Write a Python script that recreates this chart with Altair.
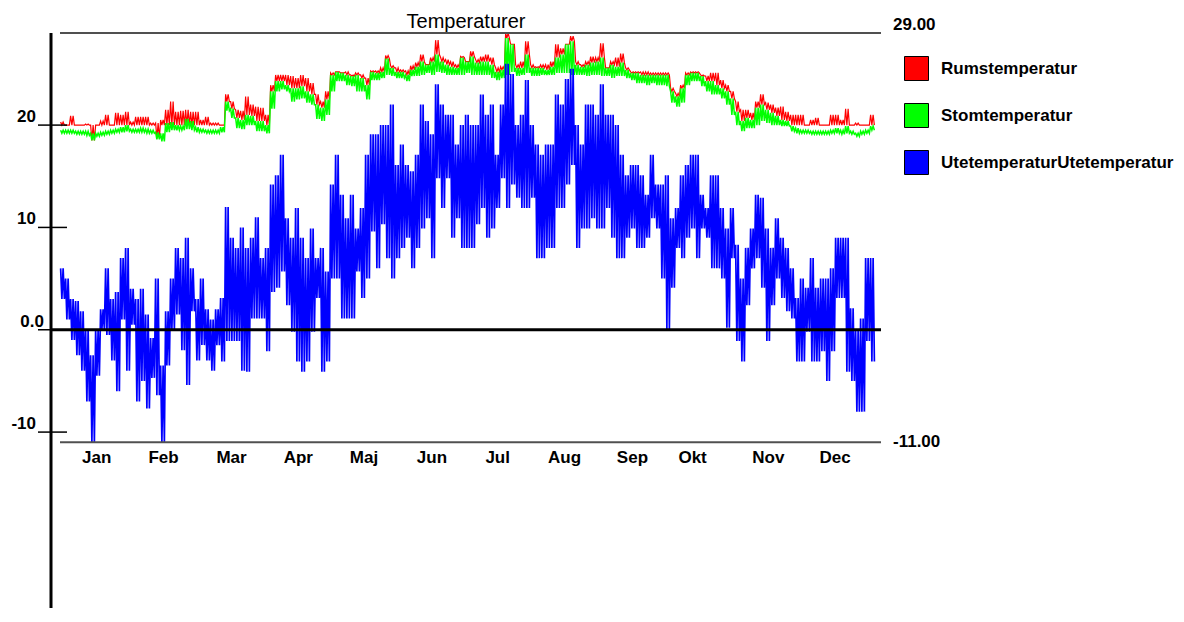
import altair as alt
import pandas as pd

# ---------------- data ----------------
# Each entry is one 5-px slice of the original time axis (about 2.245 days),
# starting 1 January; *_hi / *_lo are the top and bottom of the trace in that slice.
ute_hi = [6.0, 5.0, 3.0, 2.8, 1.8, 0.0, -2.5, 0.0, 2.0, 6.0, 3.0, 3.7, 7.0, 8.0, 4.0, 3.0,
          4.0, 1.5, -0.8, 5.0, -3.5, 1.8, 5.0, 8.0, 7.0, 9.0, 6.0, 3.0, 5.0, 2.0, 1.0, 2.0,
          3.1, 12.0, 9.0, 8.0, 10.0, 8.0, 9.0, 11.0, 7.0, 8.0, 14.2, 15.1, 17.1, 10.9, 9.0,
          11.9, 9.0, 7.0, 9.9, 7.0, 8.0, 5.7, 14.2, 17.1, 13.2, 10.9, 13.2, 9.9, 11.9, 17.1,
          19.1, 19.1, 20.0,
          20.0, 22.0, 16.1, 18.1, 16.1, 15.5, 17.1, 22.0, 20.4, 19.1, 24.0, 22.0, 21.0, 21.0,
          18.1, 20.0, 21.0, 20.0, 20.0, 23.0, 21.0, 22.0, 17.1, 22.0, 26.0, 25.0, 20.0, 21.0,
          24.4, 20.0, 18.1, 17.1, 18.1,
          18.1, 23.0, 22.0, 24.5, 25.5, 20.0, 18.1, 22.0, 22.0, 21.0, 24.0, 21.0, 21.0, 20.0,
          17.1, 15.1, 16.1, 16.1, 15.1, 13.2, 17.1, 14.2, 14.2, 15.1, 10.9, 11.9, 15.1, 16.1,
          17.1, 17.1, 13.2, 11.9, 15.1,
          15.1, 11.9, 9.9, 11.9, 8.3, 5.0, 8.0, 9.9, 13.2, 12.9, 9.9, 8.0, 10.9, 9.0, 8.0, 6.0,
          3.1, 5.0, 4.1, 7.0, 4.1, 5.0, 5.0, 6.0, 9.0, 9.0, 9.0, 2.1, 0.0, 1.1, 7.0, 7.0]
ute_lo = [3.0, 1.0, -1.0, -2.5, -4.0, -7.0, -11.0, -4.5, 0.0, -0.5, -3.0, -6.0, 1.0, -4.0, 0.5,
          -7.0, -5.0, -7.7, -4.7, -6.4, -11.0, -3.5, 0.0, 1.5, -2.0, -5.4, 1.8, -3.0, -1.5,
          -3.0, -4.0, -1.5,
          -3.1, -1.1, -1.1, -1.1, -4.0, -4.1, 1.1, 1.1, 1.1, -2.1, 3.7, 4.1, 5.7, 2.4, -0.2,
          -3.1, -4.1, -3.1, -0.2, 3.1, -4.1, -3.1, 5.0, 5.0, 1.1, 1.1, 1.1, 5.7, 3.1, 5.0, 9.6,
          6.0, 10.3,
          7.0, 5.0, 7.0, 8.0, 9.0, 6.0, 8.0, 9.9, 10.9, 7.0, 14.8, 11.9, 14.8, 9.0, 10.9, 8.0,
          8.0, 8.0, 10.3, 11.9, 9.0, 9.9, 11.9, 14.8, 11.9, 14.2, 12.9, 11.9, 11.9, 12.9, 7.0,
          7.0, 8.0,
          8.0, 11.9, 11.9, 14.2, 16.1, 8.0, 9.9, 9.9, 10.9, 9.9, 9.9, 11.9, 9.0, 7.0, 7.0, 9.0,
          9.9, 8.0, 8.0, 9.0, 10.9, 9.9, 5.0, 0.0, 4.1, 8.0, 7.0, 9.0, 9.9, 7.0, 9.9, 9.0, 6.0,
          6.0, 5.0, 0.2, 7.0, -1.1, -3.1, 2.4, 6.0, 7.0, 4.1, -1.1, 2.4, 5.0, 3.1, 1.8, 1.1,
          -3.1, -3.1, -0.2, -3.1, -3.1, -2.1, -5.0, -2.1, 3.1, 3.1, -4.1, -5.0, -8.0, -8.0,
          -1.1, -3.1]

stom_lo = [19.2, 19.2, 19.2, 19.1, 19.1, 19.0, 18.5, 18.9, 19.0, 19.1, 19.2, 19.3, 19.3, 19.4,
           19.3, 19.3, 19.3, 19.2, 19.2, 18.6, 18.4, 19.3, 19.5, 19.5, 19.5, 19.6, 19.5, 19.3,
           19.3, 19.2, 19.2, 19.2, 19.3,
           21.4, 20.7, 19.7, 19.6, 20.0, 20.0, 19.4, 19.4, 19.2, 21.6, 23.3, 23.5, 23.3, 22.3,
           22.5, 22.6, 22.2, 22.0, 20.6, 20.4, 21.0, 23.3, 24.3, 24.3, 23.9, 23.8, 23.3, 23.3,
           22.5, 24.4, 24.4, 24.6,
           24.9, 24.8, 24.6, 24.6, 24.3, 24.8, 24.8, 24.9, 25.1, 24.9, 25.2, 25.1, 24.9, 24.9,
           24.9, 24.9, 25.1, 24.9, 24.9, 24.9, 24.9, 24.6, 24.4, 24.6, 24.9, 25.2, 24.8, 24.9,
           25.1, 24.8, 24.8, 24.9, 24.9,
           24.9, 25.1, 25.1, 25.1, 24.9, 24.9, 24.9, 24.8, 24.9, 24.9, 24.8, 24.8, 24.6, 24.8,
           24.8, 24.6, 24.4, 24.1, 24.1, 23.9, 24.1, 23.9, 23.9, 23.8, 22.2, 21.8, 22.2, 23.9,
           24.3, 24.3, 23.8, 23.3, 23.0,
           23.0, 22.6, 22.0, 21.0, 20.0, 19.4, 19.7, 19.7, 20.0, 20.4, 20.2, 20.0, 20.0, 19.9,
           19.9, 19.4, 19.2, 19.2, 19.2, 19.1, 19.1, 19.1, 19.1, 19.2, 19.2, 19.1, 19.2, 19.1,
           18.9, 19.1, 19.2, 19.5]
stom_hi = [19.5, 19.5, 19.5, 19.4, 19.4, 19.4, 19.2, 19.2, 19.3, 19.4, 19.5, 19.6, 19.8, 20.0,
           19.6, 19.6, 19.7, 19.6, 19.5, 19.3, 19.2, 20.2, 20.3, 20.0, 19.9, 20.6, 20.4, 19.8,
           19.6, 19.5, 19.5, 19.5, 19.8,
           22.3, 21.6, 20.7, 20.5, 21.0, 20.9, 20.4, 20.4, 20.0, 23.3, 24.3, 24.3, 23.9, 23.6,
           23.6, 23.8, 23.3, 23.0, 22.0, 21.7, 22.5, 24.9, 25.2, 25.1, 24.9, 24.8, 24.9, 24.6,
           23.9, 25.2, 25.1, 25.2,
           26.5, 25.6, 25.2, 25.2, 24.9, 25.4, 25.7, 26.2, 25.9, 26.2, 26.9, 26.2, 25.9, 25.7,
           25.6, 26.6, 26.2, 26.7, 26.1, 26.2, 26.2, 25.9, 25.2, 25.4, 28.5, 27.9, 25.6, 25.6,
           26.9, 25.6, 25.6, 25.6, 25.4,
           25.7, 26.6, 26.9, 27.9, 28.2, 25.9, 25.7, 25.9, 26.1, 26.2, 26.6, 25.6, 25.9, 25.7,
           26.1, 25.4, 25.1, 25.1, 24.9, 24.9, 24.9, 24.9, 24.9, 24.9, 23.3, 22.8, 23.6, 24.9,
           25.1, 25.1, 24.8, 24.3, 24.3,
           23.9, 23.6, 23.3, 22.6, 21.3, 20.4, 20.7, 20.5, 21.7, 22.0, 21.5, 21.2, 20.9, 20.5,
           20.4, 19.9, 19.7, 19.5, 19.5, 19.4, 19.4, 19.4, 19.4, 19.5, 19.7, 19.5, 19.9, 19.4,
           19.2, 19.4, 19.5, 19.9]

rum_hi = [20.3, 20.0, 20.9, 20.0, 20.0, 20.1, 20.0, 20.0, 20.4, 21.0, 20.0, 21.2, 21.0, 21.3,
          20.3, 20.8, 20.8, 20.8, 20.2, 20.2, 20.5, 21.5, 22.3, 21.3, 21.4, 21.5, 21.3, 21.3,
          20.5, 20.8, 20.2, 20.2, 20.0,
          23.0, 22.3, 21.5, 21.4, 22.8, 22.0, 21.8, 21.7, 21.0, 23.9, 24.9, 24.9, 24.9, 24.8,
          24.6, 24.9, 24.6, 24.1, 23.0, 22.3, 23.3, 25.1, 25.2, 25.1, 25.2, 24.9, 25.1, 24.9,
          24.6, 25.3, 25.3, 25.6,
          26.8, 25.8, 25.6, 25.4, 25.3, 25.8, 26.1, 26.9, 25.9, 26.6, 28.3, 26.6, 26.4, 26.2,
          25.9, 26.7, 26.2, 27.2, 26.4, 26.7, 26.9, 26.6, 25.6, 25.7, 29.0, 27.9, 25.9, 26.2,
          28.2, 25.9, 25.7, 25.9, 25.9,
          26.2, 27.9, 27.5, 27.9, 28.7, 26.2, 25.9, 26.2, 26.7, 26.6, 28.0, 25.6, 26.2, 26.6,
          27.0, 25.6, 25.2, 25.2, 25.2, 25.2, 25.1, 25.1, 25.1, 25.1, 23.6, 23.1, 23.9, 25.1,
          25.2, 25.2, 24.9, 24.8, 25.1,
          25.1, 24.4, 23.9, 23.3, 22.3, 21.5, 21.5, 21.2, 22.3, 23.0, 22.2, 22.0, 21.7, 21.8,
          21.3, 21.0, 21.0, 21.0, 20.0, 20.5, 20.7, 20.0, 20.0, 21.0, 21.0, 20.5, 21.6, 20.0,
          20.2, 20.0, 20.0, 21.0]
rum_lo = [20.0, 20.0, 20.0, 20.0, 20.0, 20.0, 18.5, 20.0, 20.0, 20.0, 20.0, 20.0, 20.0, 20.0,
          20.0, 20.0, 20.0, 20.0, 20.0, 18.7, 20.0, 20.0, 20.0, 20.0, 20.0, 20.0, 20.0, 20.0,
          20.0, 20.0, 20.0, 20.0, 20.0,
          22.3, 21.6, 20.7, 20.5, 21.0, 20.9, 20.4, 20.4, 20.0, 23.3, 24.3, 24.3, 23.9, 23.6,
          23.6, 23.8, 23.3, 23.0, 22.0, 21.7, 22.5, 24.9, 25.2, 25.1, 24.9, 24.8, 24.9, 24.6,
          23.9, 25.2, 25.1, 25.2,
          26.5, 25.6, 25.2, 25.2, 24.9, 25.4, 25.7, 26.2, 25.9, 26.2, 26.9, 26.2, 25.9, 25.7,
          25.6, 26.6, 26.2, 26.7, 26.1, 26.2, 26.2, 25.9, 25.2, 25.4, 28.5, 27.9, 25.6, 25.6,
          26.9, 25.6, 25.6, 25.6, 25.4,
          25.7, 26.6, 26.9, 27.9, 28.2, 25.9, 25.7, 25.9, 26.1, 26.2, 26.6, 25.6, 25.9, 25.7,
          26.1, 25.4, 25.1, 25.1, 24.9, 24.9, 24.9, 24.9, 24.9, 24.9, 23.3, 22.8, 23.6, 24.9,
          25.1, 25.1, 24.8, 24.3, 24.3,
          23.9, 23.6, 23.3, 22.6, 21.3, 20.4, 20.7, 20.5, 21.7, 22.0, 21.5, 21.2, 20.9, 20.5,
          20.4, 20.0, 20.0, 20.0, 20.0, 20.0, 20.0, 20.0, 20.0, 20.0, 20.0, 20.0, 20.0, 20.0,
          20.0, 20.0, 20.0, 20.0]

month_names = ["Jan", "Feb", "Mar", "Apr", "Maj", "Jun", "Jul", "Aug", "Sep", "Okt", "Nov", "Dec"]
month_pos = [16.5, 46.5, 77.0, 107.0, 136.5, 167.0, 196.5, 226.5, 257.0, 284.0, 318.0, 348.0]
tick_values = [20, 10, 0, -10]
tick_labels = ["20", "10", "0.0", "-10"]
ref_values = [29, -11]
ref_labels = ["29.00", "-11.00"]
series_names = ["Rumstemperatur", "Stomtemperatur", "UtetemperaturUtetemperatur"]
series_colors = ["#ff0000", "#00ff00", "#0000ff"]
title_text = "Temperaturer"

# ---------------- layout ----------------
W, H = 830, 575
PX_PER_DAY = 2.2274
X0_PX = 9
PX_PER_DEG = 10.233
BIN_DAYS = 5 / PX_PER_DAY
FONT = "Liberation Sans"

xs = alt.Scale(domain=[-X0_PX / PX_PER_DAY, (W - X0_PX) / PX_PER_DAY], nice=False, zero=False)
ys = alt.Scale(domain=[29 - H / PX_PER_DEG, 29], nice=False, zero=False)


def zigzag(hi, lo, strokes):
    # the trace swings between the slice's top and bottom `strokes` times per slice
    rows = []
    n = 0
    for k, (h, l) in enumerate(zip(hi, lo)):
        for j in range(2 * strokes):
            rows.append({"day": (k + (j + 0.5) / (2 * strokes)) * BIN_DAYS,
                         "temp": h if j % 2 == 0 else l, "i": n})
            n += 1
    return pd.DataFrame(rows)


def trace(hi, lo, color, sw, strokes):
    return alt.Chart(zigzag(hi, lo, strokes)).mark_line(color=color, strokeWidth=sw).encode(
        x=alt.X("day:Q", scale=xs, axis=None),
        y=alt.Y("temp:Q", scale=ys, axis=None),
        order="i:Q",
    )


red = trace(rum_hi, rum_lo, series_colors[0], 1.2, 2)
green = trace(stom_hi, stom_lo, series_colors[1], 1.5, 2)
blue = trace(ute_hi, ute_lo, series_colors[2], 1.7, 2)

Yv = alt.Y("v:Q", scale=ys, axis=None)

ref_df = pd.DataFrame({"v": ref_values, "label": ref_labels})
ref_rules = alt.Chart(ref_df).mark_rule(color="#505050", strokeWidth=2).encode(
    y=Yv, x=alt.value(X0_PX), x2=alt.value(W))
zero_rule = alt.Chart(pd.DataFrame({"v": [0]})).mark_rule(color="black", strokeWidth=3).encode(
    y=Yv, x=alt.value(0), x2=alt.value(W))
axis_rule = alt.Chart(pd.DataFrame({"v": [29]})).mark_rule(color="black", strokeWidth=3).encode(
    y=Yv, y2=alt.value(H), x=alt.value(0))

ticks_df = pd.DataFrame({"v": tick_values, "label": tick_labels})
tick_rules = alt.Chart(ticks_df).mark_rule(color="black", strokeWidth=1.5).encode(
    y=Yv, x=alt.value(-13), x2=alt.value(16))
tick_text = alt.Chart(ticks_df).transform_filter(alt.datum.label != "0.0").mark_text(
    align="right", baseline="alphabetic", dy=-3, font=FONT, fontSize=17, fontWeight="bold",
    color="black").encode(y=Yv, x=alt.value(-15), text="label:N")
zero_text = alt.Chart(ticks_df).transform_filter(alt.datum.label == "0.0").mark_text(
    align="right", baseline="alphabetic", dy=-3, font=FONT, fontSize=17, fontWeight="bold",
    color="black").encode(y=Yv, x=alt.value(-7), text="label:N")

top_text = alt.Chart(ref_df).transform_filter(alt.datum.v > 0).mark_text(
    align="left", baseline="alphabetic", dy=-3, font=FONT, fontSize=17, fontWeight="bold",
    color="black").encode(y=Yv, x=alt.value(842), text="label:N")
bot_text = alt.Chart(ref_df).transform_filter(alt.datum.v < 0).mark_text(
    align="left", baseline="middle", font=FONT, fontSize=17, fontWeight="bold",
    color="black").encode(y=Yv, x=alt.value(842), text="label:N")

month_df = pd.DataFrame({"pos": month_pos, "name": month_names})
month_text = alt.Chart(month_df).mark_text(
    align="center", baseline="alphabetic", font=FONT, fontSize=17, fontWeight="bold",
    color="black").encode(x=alt.X("pos:Q", scale=xs, axis=None), y=alt.value(430), text="name:N")

title = alt.Chart(pd.DataFrame({"t": [title_text]})).mark_text(
    align="center", baseline="alphabetic", font=FONT, fontSize=20, color="black").encode(
    x=alt.value(W / 2), y=alt.value(-5), text="t:N")

legend_df = pd.DataFrame({"serie": series_names, "day": [0.0, 0.0, 0.0], "temp": [100.0, 100.0, 100.0]})
legend_layer = alt.Chart(legend_df).mark_square(size=576, opacity=1, clip=True, stroke="black",
                                                 strokeWidth=1).encode(
    x=alt.X("day:Q", scale=xs, axis=None),
    y=alt.Y("temp:Q", scale=ys, axis=None),
    color=alt.Color("serie:N", scale=alt.Scale(domain=series_names, range=series_colors),
                    legend=alt.Legend(title=None, orient="none", legendX=853, legendY=23,
                                      symbolType="square", symbolSize=576,
                                      symbolStrokeColor="black", symbolStrokeWidth=1,
                                      symbolOpacity=1, labelFont=FONT, labelFontSize=17,
                                      labelFontWeight="bold", labelColor="black",
                                      labelOffset=12, labelLimit=400, rowPadding=18,
                                      padding=0)),
)

chart = alt.layer(
    red, green, blue, ref_rules, zero_rule, axis_rule, tick_rules, tick_text, zero_text,
    top_text, bot_text, month_text, title, legend_layer,
).properties(
    width=W, height=H,
    padding={"left": 43, "top": 25, "right": 294, "bottom": 0},
    autosize=alt.AutoSizeParams(type="none"),
    background="white",
).configure_view(strokeWidth=0)

chart.save("out.html", embed_options={"renderer": "svg", "actions": False})
